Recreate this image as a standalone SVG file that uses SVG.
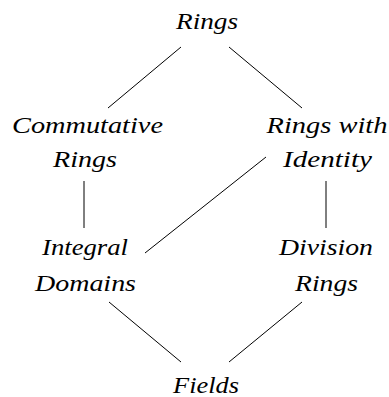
<svg xmlns="http://www.w3.org/2000/svg" width="389" height="397" viewBox="0 0 389 397">
<style>
text{font-family:"Liberation Serif","Times New Roman",serif;font-style:italic;font-size:23px;fill:#000;text-anchor:middle}
.e line{stroke:#000;stroke-width:1}
</style>
<rect width="389" height="397" fill="#fff"/>
<g class="e" id="connectors">
<line x1="181" y1="47" x2="108" y2="108"/>
<line x1="229" y1="47" x2="302" y2="108"/>
<line x1="84" y1="181" x2="84" y2="228"/>
<line x1="266" y1="157" x2="145" y2="253"/>
<line x1="326" y1="181" x2="326" y2="228"/>
<line x1="109" y1="302" x2="181" y2="362"/>
<line x1="302" y1="302" x2="229" y2="362"/>
</g>
<g id="rings"><text x="207" y="29" textLength="62" lengthAdjust="spacingAndGlyphs">Rings</text></g>
<g id="commutative"><text x="87.5" y="133" textLength="151" lengthAdjust="spacingAndGlyphs">Commutative</text><text x="85" y="167" textLength="64" lengthAdjust="spacingAndGlyphs">Rings</text></g>
<g id="identity"><text x="327" y="133" textLength="121" lengthAdjust="spacingAndGlyphs">Rings with</text><text x="327.5" y="167" textLength="89" lengthAdjust="spacingAndGlyphs">Identity</text></g>
<g id="integral"><text x="85" y="255" textLength="86" lengthAdjust="spacingAndGlyphs">Integral</text><text x="85.5" y="291" textLength="101" lengthAdjust="spacingAndGlyphs">Domains</text></g>
<g id="division"><text x="326" y="255" textLength="94" lengthAdjust="spacingAndGlyphs">Division</text><text x="326.5" y="291" textLength="63" lengthAdjust="spacingAndGlyphs">Rings</text></g>
<g id="fields"><text x="206" y="393" textLength="66" lengthAdjust="spacingAndGlyphs">Fields</text></g>
</svg>
